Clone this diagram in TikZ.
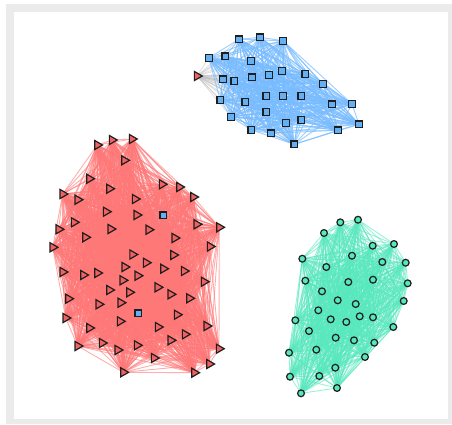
\documentclass[tikz,border=0pt]{standalone}
\usetikzlibrary{shapes.geometric}
\definecolor{redfill}{RGB}{240,98,98}
\definecolor{rededge}{RGB}{255,120,120}
\definecolor{bluefill}{RGB}{100,176,245}
\definecolor{blueedge}{RGB}{120,188,255}
\definecolor{greenfill}{RGB}{85,232,185}
\definecolor{greenedge}{RGB}{88,232,190}
\definecolor{framegray}{RGB}{235,235,235}
\definecolor{crossedge}{RGB}{190,190,190}
\definecolor{nodeborder}{RGB}{30,30,30}
\tikzset{
  redline/.style={draw=rededge,line width=0.9pt,opacity=0.6},
  blueline/.style={draw=blueedge,line width=0.95pt,opacity=0.7},
  greenline/.style={draw=greenedge,line width=0.9pt,opacity=0.6},
  grayline/.style={draw=crossedge,line width=0.8pt,opacity=0.5},
  trinode/.style={regular polygon,regular polygon sides=3,rotate=-90,minimum size=10.5pt,inner sep=0pt,fill=redfill,draw=nodeborder,line width=1.2pt},
  sqnode/.style={rectangle,minimum size=6.8pt,inner sep=0pt,fill=bluefill,draw=nodeborder,line width=1.2pt},
  cirnode/.style={circle,minimum size=6.8pt,inner sep=0pt,fill=greenfill,draw=nodeborder,line width=1.2pt}
}
\begin{document}
\begin{tikzpicture}[x=1pt,y=-1pt]
\useasboundingbox (0,0) rectangle (452,424);
\fill[framegray] (6,4) rectangle (452,424);
\fill[white] (14,12) rectangle (447.7,418.7);
% red cluster coordinates
\foreach \px/\py [count=\i] in {97.3/145,112/140,132/139,124.3/160.3,89.3/178.7,109.3/188.7,162/184.3,179.3/187,62.7/194,77.7/199.7,135/199,193.3/197,106/211.7,136.7/215,74/222.3,196.7/224.3,219.3/227.3,58.7/229.3,110.7/229,148.7/229.7,85.3/237.3,174.7/238,52.7/247.3,210/246.5,132.5/254.5,173.3/255,146/262.7,124.7/267,163.3/268.7,184/271,62.7/272,83.3/275,97.3/273,122.7/280.3,137.7/275.7,204/281.7,109.3/290,129.3/292.3,157.7/287.3,170.7/294.3,189.3/298.3,68.3/298.7,98.7/304.3,120.7/302.7,177/314.7,65.7/318,89.3/328,120/321.3,158/327,206.7/326,102/343,117.7/350,137/345.3,170.7/340.3,185/334.3,77.7/346,219/348.7,154/358,209.3/364,123.3/372.3,194.3/372.7}
  {\coordinate (r\i) at (\px,\py);}
% blue cluster coordinates (b30, b31 lie in the red cluster)
\foreach \px/\py [count=\i] in {239/39.3,260/37.3,283/40.7,208.7/58,225.3/56.3,251/60.7,222.7/79.3,234.3/81,251.7/77.3,268.7/74.7,282/70.7,305.3/73.7,323/84,220.3/100,245.3/102,266.3/96,283/96,301.3/96,331.7/104.3,352/104,231/116.7,266.3/112,301.3/119.7,285.7/122.7,359/124.3,251.3/130,270.7/133.3,337.7/130.3,294.3/144.3,163.3/215.3,138.3/313.3}
  {\coordinate (b\i) at (\px,\py);}
% red triangle inside the blue cluster
\coordinate (t1) at (197,76);
% green cluster coordinates
\foreach \px/\py [count=\i] in {340.3/222.3,358/219.7,324/233,372.7/245.7,394/244,302.3/258.7,352/255.7,326.3/267,382.3/262,405.7/262.7,305.3/280.7,348.3/282,373/279.7,407.7/283.3,322/291.3,337.7/300.3,355.7/304,403.7/301,318.3/310.3,295.3/320.3,330.7/319.3,346.3/322,359.7/316.3,373/317.3,309/331,393.3/327,335.7/337.7,354/340.3,374.3/342.7,289/352.7,316.3/349.7,365/357,335.3/367.7,290/376.7,319.3/376,337/388,301/393.3}
  {\coordinate (g\i) at (\px,\py);}
% cross-group edges (gray)
\foreach \j in {1,...,29}{\draw[grayline] (t1) -- (b\j);}
\foreach \j in {1,...,61}{\draw[grayline] (b30) -- (r\j); \draw[grayline] (b31) -- (r\j);}
% within-group edges
\foreach \i in {1,...,60}{
  \pgfmathtruncatemacro\k{\i+1}
  \foreach \j in {\k,...,61}{\draw[redline] (r\i) -- (r\j);}
}
\foreach \i in {1,...,28}{
  \pgfmathtruncatemacro\k{\i+1}
  \foreach \j in {\k,...,29}{\draw[blueline] (b\i) -- (b\j);}
}
\foreach \i in {1,...,36}{
  \pgfmathtruncatemacro\k{\i+1}
  \foreach \j in {\k,...,37}{\draw[greenline] (g\i) -- (g\j);}
}
% nodes
\foreach \i in {1,...,61}{\node[trinode] (R\i) at (r\i) {};}
\node[trinode] (T1) at (t1) {};
\foreach \i in {1,...,31}{\node[sqnode] (B\i) at (b\i) {};}
\foreach \i in {1,...,37}{\node[cirnode] (G\i) at (g\i) {};}
\end{tikzpicture}
\end{document}
